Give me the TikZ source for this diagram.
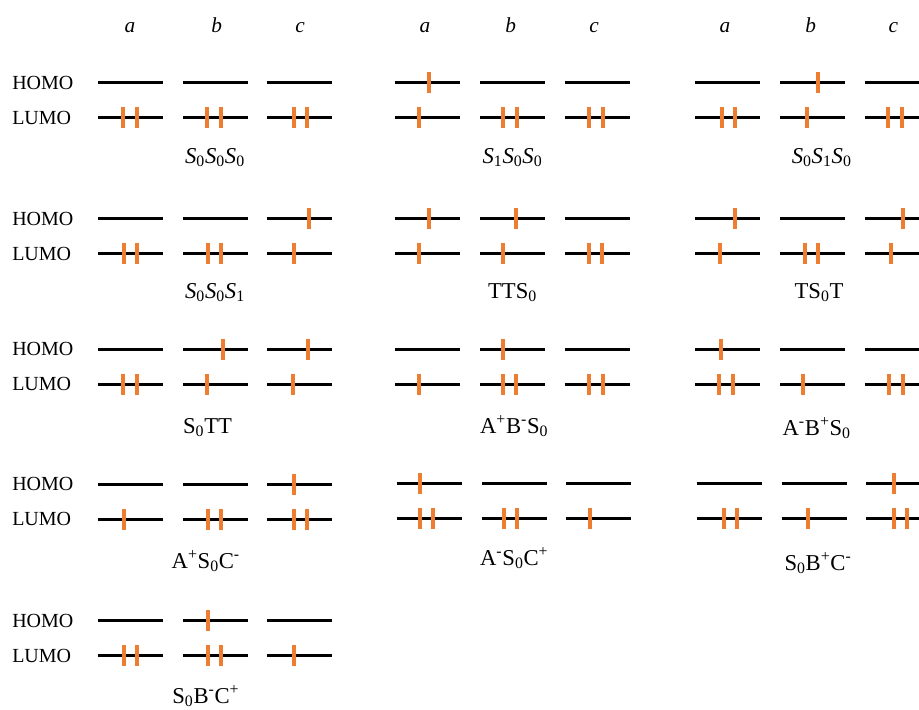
\documentclass[tikz,border=0pt]{standalone}
\usepackage{fontspec}
\setmainfont{Liberation Serif}
\definecolor{elecorange}{HTML}{ED7D31}
\tikzset{
  level/.style={line width=2.2pt, black},
  elec/.style={line width=3pt, elecorange},
  orb/.style={font=\fontsize{15}{18}\selectfont, anchor=west, inner sep=0pt},
  frag/.style={font=\fontsize{16}{19}\selectfont\itshape, anchor=base, inner sep=0pt},
  state/.style={font=\fontsize{17}{20}\selectfont, anchor=base, inner sep=0pt}
}
% one energy level, 65 px long, starting at (x,y)
\newcommand\lvl[2]{\draw[level] (#1,#2) -- ++(65,0);}
% one electron: a short vertical tick centred on a level
\newcommand\el[2]{\draw[elec] (#1,#2) ++(0,-10.5) -- ++(0,21);}
\newcommand\Si[1]{{\itshape S}\textsubscript{#1}}
\newcommand\Su[1]{S\textsubscript{#1}}
\begin{document}
\begin{tikzpicture}[x=0.75pt,y=-0.75pt]
\useasboundingbox (0,0) rectangle (919,709);

% fragment headers
\foreach \xa/\xb/\xc [count=\g] in {130/216.7/300, 425/510.7/594, 725/810.7/893.3}{
  \node[frag] (ha\g) at (\xa,32.3) {a};
  \node[frag] (hb\g) at (\xb,32.3) {b};
  \node[frag] (hc\g) at (\xc,32.3) {c};
}

% orbital labels on the left
\foreach \yh [count=\r] in {82.7,218.7,349.3,484.3,620.7}{
  \node[orb] (homo\r) at (12,\yh) {HOMO};
  \node[orb] (lumo\r) at (12,\yh+35) {LUMO};
}

% energy levels
\foreach \yh in {82.7,218.7,349.3}{
  \foreach \x in {98,183,267.3,395,480,564.5,695,780,864.5}{
    \lvl{\x}{\yh}\lvl{\x}{\yh+35}
  }
}
\foreach \x in {98,183,267.3}{\lvl{\x}{484.3}\lvl{\x}{519.3}}
\foreach \x in {396.7,481.7,566.2,696.7,781.7,866.2}{\lvl{\x}{483.3}\lvl{\x}{518.3}}
\foreach \x in {98,183,267.3}{\lvl{\x}{620.7}\lvl{\x}{655.7}}

% ---- row 1 (H 82.7, L 117.7)
\foreach \x in {123.3,136.7,207.3,220.7,294,307.3}{\el{\x}{117.7}}
\el{429.3}{82.7}\el{419}{117.7}
\foreach \x in {503.3,516.7,589.3,602.7}{\el{\x}{117.7}}
\foreach \x in {721.7,735,806.7,888.3,901.7}{\el{\x}{117.7}}
\el{817.7}{82.7}

% ---- row 2 (H 218.7, L 253.7)
\foreach \x in {123.7,137,207.7,221,294}{\el{\x}{253.7}}
\el{309}{218.7}
\el{429}{218.7}\el{419}{253.7}
\el{516}{218.7}\el{503}{253.7}
\el{589.3}{253.7}\el{602.3}{253.7}
\el{734.7}{218.7}\el{720.3}{253.7}
\el{804.7}{253.7}\el{817.7}{253.7}
\el{902.7}{218.7}\el{890.7}{253.7}

% ---- row 3 (H 349.3, L 384.3)
\foreach \x in {123.3,136.7,206.7,292.7}{\el{\x}{384.3}}
\el{222.7}{349.3}\el{307.7}{349.3}
\el{418.8}{384.3}
\el{503}{349.3}\el{503}{384.3}\el{516.4}{384.3}
\el{589}{384.3}\el{602.7}{384.3}
\el{720.5}{349.3}\el{719.2}{384.3}\el{732.6}{384.3}
\el{803.4}{384.3}
\el{889.3}{384.3}\el{902.7}{384.3}

% ---- row 4
\el{123.7}{519.3}
\el{207.7}{519.3}\el{221}{519.3}
\el{294}{484.3}\el{294}{519.3}\el{307.3}{519.3}
\el{420.3}{483.3}\el{420.3}{518.3}\el{433.3}{518.3}
\el{504.3}{518.3}\el{517.3}{518.3}
\el{590.3}{518.3}
\el{723.7}{518.3}\el{737}{518.3}
\el{807.7}{518.3}
\el{893.7}{483.3}\el{893.7}{518.3}\el{907}{518.3}

% ---- row 5 (H 620.7, L 655.7)
\el{124}{655.7}\el{137}{655.7}
\el{208}{620.7}\el{208}{655.7}\el{221}{655.7}
\el{294}{655.7}

% state labels
\node[state] (s1) at (215,163.5) {\Si{0}\Si{0}\Si{0}};
\node[state] (s2) at (512.5,163.5) {\Si{1}\Si{0}\Si{0}};
\node[state] (s3) at (821.7,163.5) {\Si{0}\Si{1}\Si{0}};
\node[state] (s4) at (215,298.3) {\Si{0}\Si{0}\Si{1}};
\node[state] (s5) at (512.5,298.3) {TT\Su{0}};
\node[state] (s6) at (819,298.3) {T\Su{0}T};
\node[state] (s7) at (207.5,433.3) {\Su{0}TT};
\node[state] (s8) at (514.2,433.3) {A\textsuperscript{+}B\textsuperscript{-}\Su{0}};
\node[state] (s9) at (816.7,435) {A\textsuperscript{-}B\textsuperscript{+}\Su{0}};
\node[state] (s10) at (205.8,568.3) {A\textsuperscript{+}\Su{0}C\textsuperscript{-}};
\node[state] (s11) at (514.2,565) {A\textsuperscript{-}\Su{0}C\textsuperscript{+}};
\node[state] (s12) at (818,570) {\Su{0}B\textsuperscript{+}C\textsuperscript{-}};
\node[state] (s13) at (205.8,703.3) {\Su{0}B\textsuperscript{-}C\textsuperscript{+}};
\end{tikzpicture}
\end{document}
